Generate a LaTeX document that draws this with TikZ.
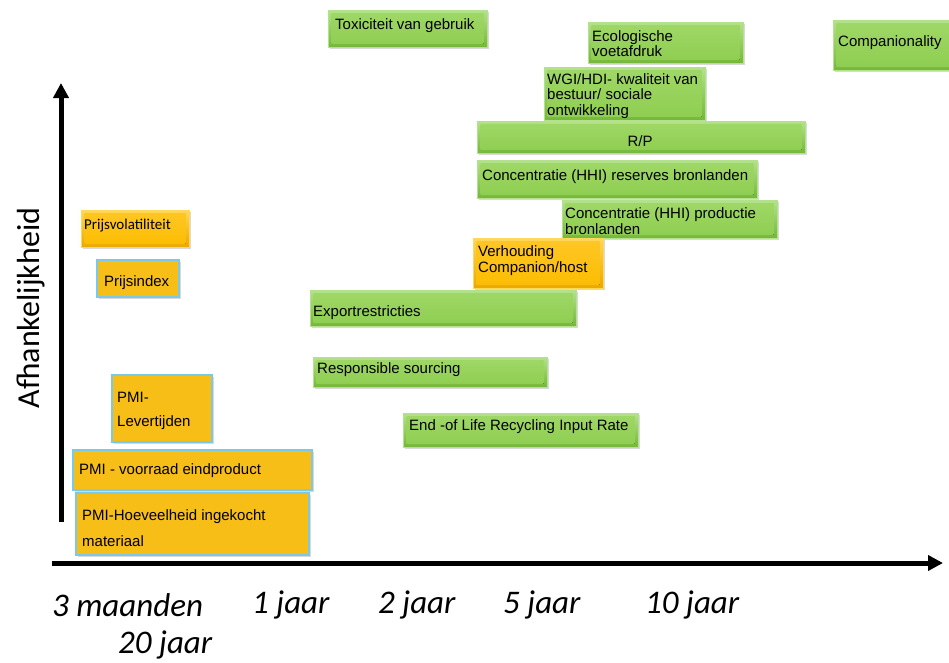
\documentclass[tikz,border=0pt]{standalone}
\usepackage{fontspec}
\setmainfont{Liberation Sans}
\newfontfamily\calib{Carlito}
\usetikzlibrary{shadows,arrows.meta}
\definecolor{gtop}{HTML}{B4E28C}
\definecolor{gbot}{HTML}{74B838}
\definecolor{gin1}{HTML}{A0D868}
\definecolor{gin2}{HTML}{8ECD50}
\definecolor{otop}{HTML}{FFD75A}
\definecolor{obot}{HTML}{EBA800}
\definecolor{oin1}{HTML}{FFC726}
\definecolor{oin2}{HTML}{FBBC00}
\definecolor{pmi}{HTML}{F6BE16}
\definecolor{pmib}{HTML}{7CC8E8}
\tikzset{
  shad/.style={drop shadow={shadow xshift=1.5pt, shadow yshift=-2pt, opacity=0.3}},
  gbox/.style={rectangle, inner sep=0pt, draw=gtop, line width=0.6pt, top color=gtop, bottom color=gbot, shad,
    path picture={\fill[top color=gin1, bottom color=gin2] ([xshift=3.5pt,yshift=-3.5pt]path picture bounding box.north west) rectangle ([xshift=-3.5pt,yshift=3.5pt]path picture bounding box.south east);}},
  obox/.style={rectangle, inner sep=0pt, draw=otop, line width=0.6pt, top color=otop, bottom color=obot, shad,
    path picture={\fill[top color=oin1, bottom color=oin2] ([xshift=3.5pt,yshift=-3.5pt]path picture bounding box.north west) rectangle ([xshift=-3.5pt,yshift=3.5pt]path picture bounding box.south east);}},
  pbox/.style={rectangle, inner sep=0pt, draw=pmib, line width=1.6pt, fill=pmi, shad},
  txt/.style={inner sep=0pt, anchor=west, align=left, font=\fontsize{15}{15.5}\selectfont},
  axl/.style={inner sep=0pt, anchor=west, font=\calib\itshape\fontsize{33}{33}\selectfont},
  axis/.style={line width=5pt, -{Triangle[length=15pt,width=15pt]}}
}
\newcommand\bx[6]{\node[#2, minimum width={(#5-#3)*1pt}, minimum height={(#6-#4)*1pt}] (#1) at ({(#3+#5)/2},{(#4+#6)/2}) {};}
\begin{document}
\begin{tikzpicture}[x=1pt,y=-1pt]
\useasboundingbox (0,0) rectangle (949,662);
% axes
\coordinate (yb) at (61,522);
\coordinate (yt) at (61,83);
\coordinate (xl) at (52,563);
\coordinate (xr) at (943,563);
\draw[axis] (yb) -- (yt);
\draw[axis] (xl) -- (xr);
\node[rotate=90, inner sep=0pt, font=\calib\fontsize{32}{32}\selectfont] (ylab) at (31,308) {Afhankelijkheid};
% green boxes
\bx{tox}{gbox}{328}{10}{487}{47}
\node[txt] (toxt) at (335,26) {Toxiciteit van gebruik};
\bx{eco}{gbox}{588}{22}{743}{63}
\node[txt] (ecot) at (592,43.5) {Ecologische\\voetafdruk};
\bx{comp}{gbox}{833}{20}{962}{70}
\node[txt] (compt) at (838,43) {Companionality};
\bx{wgi}{gbox}{544}{67}{705}{120}
\node[txt] (wgit) at (547,96) {WGI/HDI- kwaliteit van\\bestuur/ sociale\\ontwikkeling};
\bx{rp}{gbox}{477}{121}{805}{153}
\node[txt, anchor=center] (rpt) at (640,141) {R/P};
\bx{cres}{gbox}{477}{160}{757}{198}
\node[txt] (crest) at (482,177) {Concentratie (HHI) reserves bronlanden};
\bx{cprod}{gbox}{562}{200}{777}{238}
\node[txt] (cprodt) at (565,221) {Concentratie (HHI) productie\\bronlanden};
\bx{verh}{obox}{473}{238}{603}{288}
\node[txt, font=\fontsize{15}{16}\selectfont] (verht) at (478,260.5) {Verhouding\\Companion/host};
\bx{exp}{gbox}{310}{290}{576}{326}
\node[txt] (expt) at (313,313) {Exportrestricties};
\bx{resp}{gbox}{313}{357}{547}{387}
\node[txt] (respt) at (317,370) {Responsible sourcing};
\bx{eol}{gbox}{403}{413}{638}{447}
\node[txt] (eolt) at (409,427) {End -of Life Recycling Input Rate};
% orange boxes
\bx{pvol}{obox}{81}{210}{189}{247}
\node[txt, font=\calib\fontsize{15}{15}\selectfont] (pvolt) at (84,226) {Prijsvolatiliteit};
\bx{pidx}{pbox}{97}{260}{179}{297}
\node[txt] (pidxt) at (104,283) {Prijsindex};
\bx{plev}{pbox}{112}{375}{212}{442}
\node[txt, font=\fontsize{15}{24}\selectfont] (plevt) at (117,411) {PMI-\\Levertijden};
\bx{pvoor}{pbox}{73}{450}{312}{490}
\node[txt] (pvoort) at (79,471) {PMI - voorraad eindproduct};
\bx{phoe}{pbox}{76}{493}{309}{555}
\node[txt, font=\fontsize{15}{26}\selectfont] (phoet) at (82,528) {PMI-Hoeveelheid ingekocht\\materiaal};
% axis labels
\node[axl] (l3m) at (52,605) {3 maanden};
\node[axl] (l1j) at (252,605) {1 jaar};
\node[axl] (l2j) at (378,605) {2 jaar};
\node[axl] (l5j) at (503,605) {5 jaar};
\node[axl] (l10j) at (645,605) {10 jaar};
\node[axl] (l20j) at (118,645) {20 jaar};
\end{tikzpicture}
\end{document}
